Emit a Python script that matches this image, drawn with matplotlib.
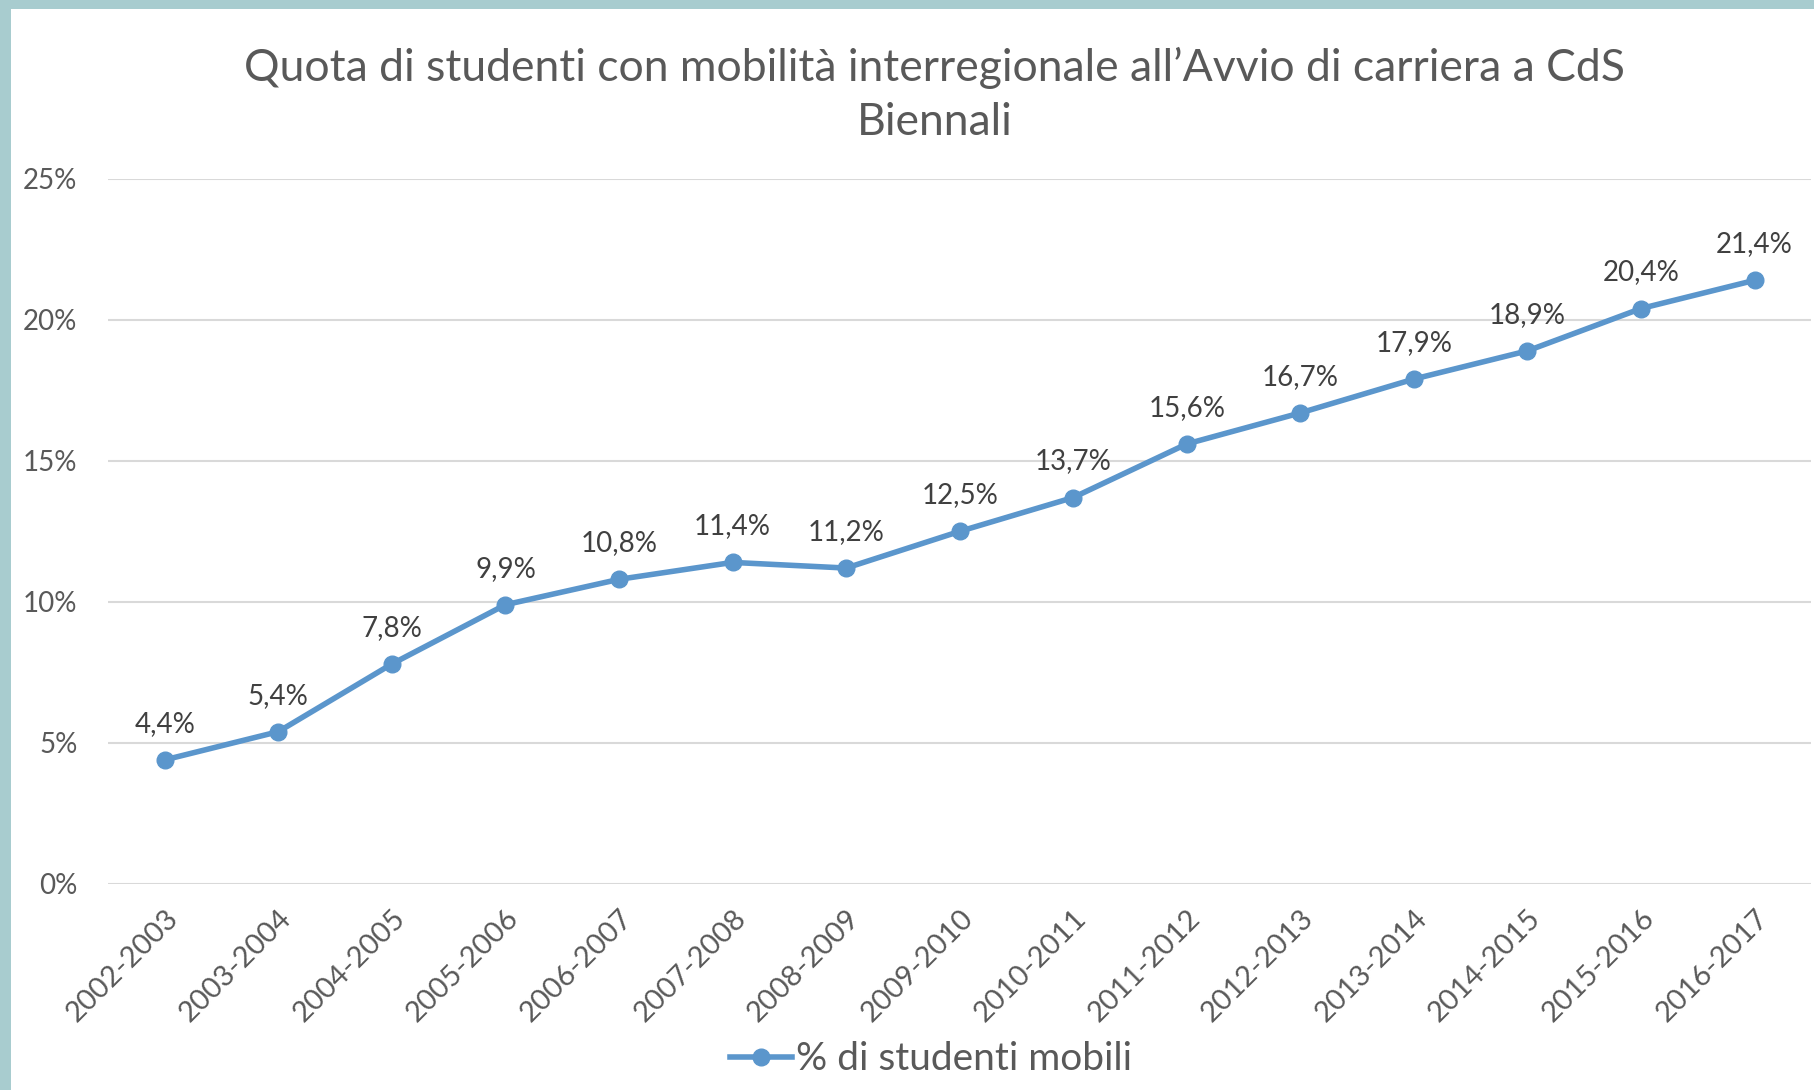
import matplotlib
matplotlib.use('Agg')
import matplotlib.pyplot as plt
from matplotlib.patches import Rectangle

plt.rcParams['font.family'] = ['Lato', 'DejaVu Sans']

anni = ['2002-2003', '2003-2004', '2004-2005', '2005-2006', '2006-2007',
        '2007-2008', '2008-2009', '2009-2010', '2010-2011', '2011-2012',
        '2012-2013', '2013-2014', '2014-2015', '2015-2016', '2016-2017']
quota = [4.4, 5.4, 7.8, 9.9, 10.8, 11.4, 11.2, 12.5, 13.7, 15.6,
         16.7, 17.9, 18.9, 20.4, 21.4]
y_ticks = [0, 5, 10, 15, 20, 25]

grigio = '#595959'
blu = '#5B96CC'

fig = plt.figure(figsize=(18.15, 10.9), dpi=100, facecolor='#A8CCCF')
# white slide area, teal border on left and top
fig.patches.append(Rectangle((11 / 1815, 0), 1, 1 - 9 / 1090,
                             transform=fig.transFigure, facecolor='white',
                             edgecolor='none', zorder=-10))

ax = fig.add_axes([0.0595, 0.189, 0.9385, 0.647], zorder=2)
ax.set_facecolor('none')
x = list(range(len(anni)))
ax.plot(x, quota, color=blu, linewidth=4, marker='o', markersize=12,
        label='% di studenti mobili', zorder=3)

for xi, v in zip(x, quota):
    ax.annotate(f'{v:.1f}%'.replace('.', ','), (xi, v), xytext=(0, 26),
                textcoords='offset points', ha='center', va='center',
                fontsize=20, color='#404040')

ax.set_xlim(-0.5, len(anni) - 0.5)
ax.set_ylim(0, 25)
ax.set_yticks(y_ticks)
ax.set_yticklabels([f'{t}%' for t in y_ticks])
ax.set_xticks(x)
ax.set_xticklabels(anni, rotation=45, ha='right', rotation_mode='anchor')
ax.tick_params(axis='y', length=0, pad=22, labelsize=20, labelcolor=grigio)
ax.tick_params(axis='x', length=0, pad=15, labelsize=21, labelcolor=grigio)
ax.grid(axis='y', color='#D9D9D9', linewidth=1.5)
ax.set_axisbelow(True)
for s in ax.spines.values():
    s.set_visible(False)

fig.text(0.515, 0.913, 'Quota di studenti con mobilità interregionale all\u2019Avvio di carriera a CdS\nBiennali',
         ha='center', va='center', fontsize=32, color=grigio, linespacing=1.4)

fig.legend(loc='center', bbox_to_anchor=(0.513, 0.028), frameon=False,
           fontsize=28, labelcolor=grigio, handlelength=1.6, handletextpad=0.1)

fig.savefig('out.png', dpi=100, facecolor=fig.get_facecolor())
